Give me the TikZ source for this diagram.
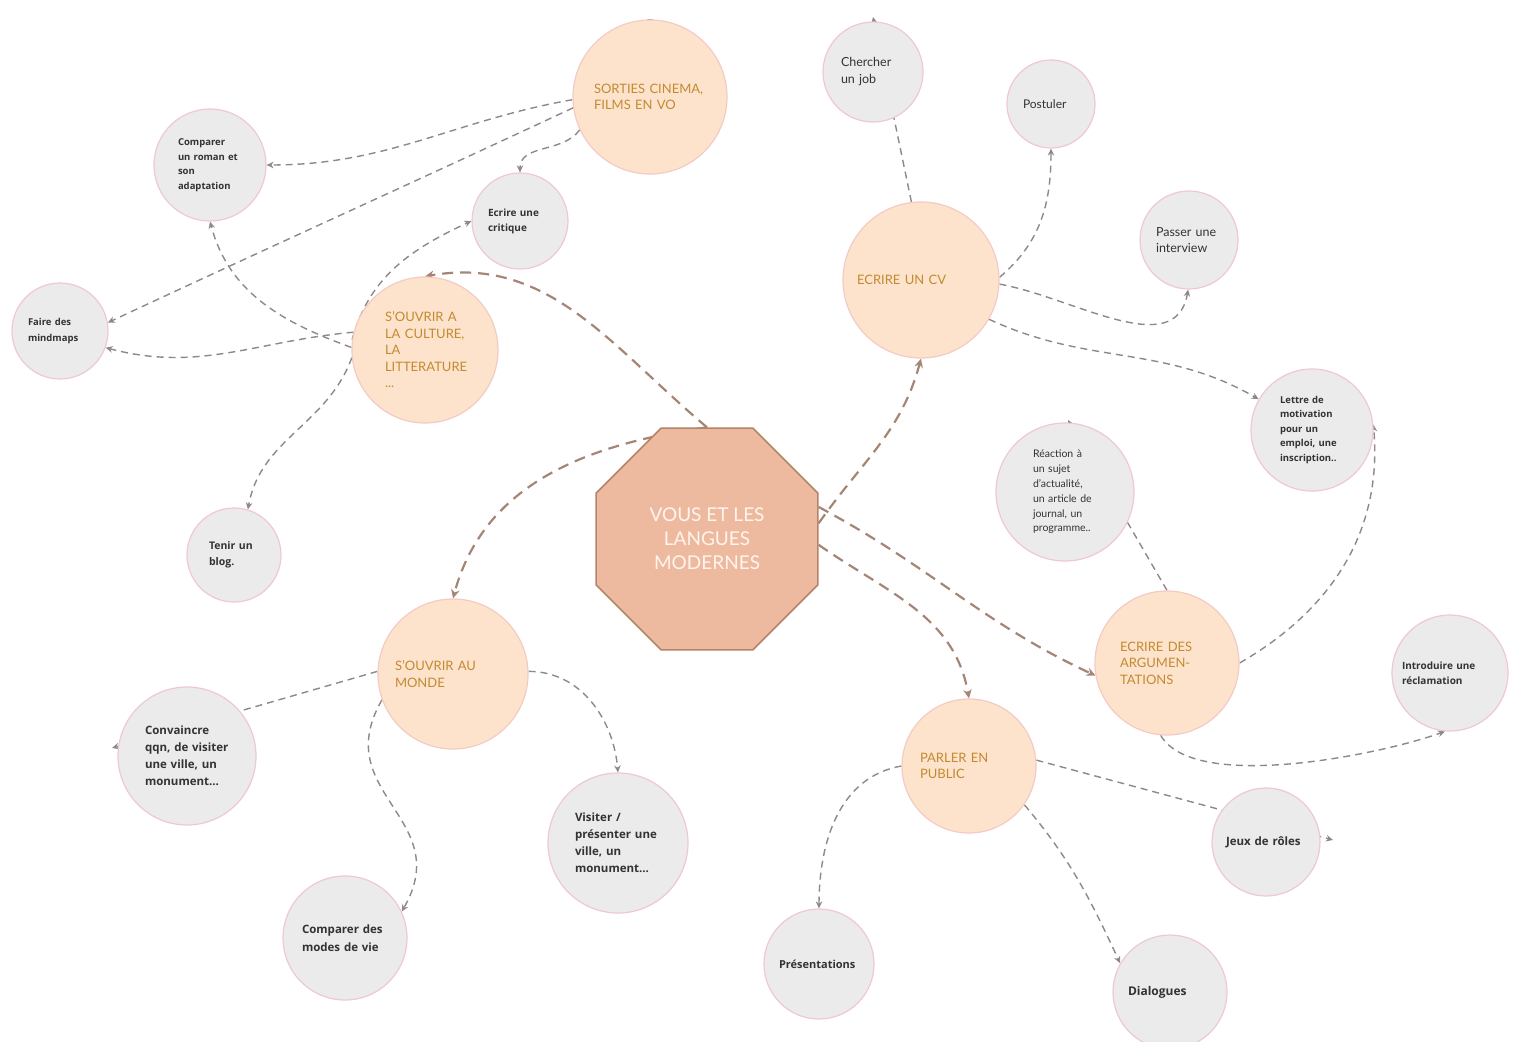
\documentclass[tikz,border=0pt]{standalone}
\usepackage{fontspec}
\setmainfont{Lato}
\newfontfamily\ideasans{Open Sans}
\usetikzlibrary{shapes.geometric,arrows.meta,backgrounds}

\definecolor{hubfill}{HTML}{EDBA9F}
\definecolor{hubline}{HTML}{B4846A}
\definecolor{hubtext}{HTML}{FFF4EE}
\definecolor{topicfill}{HTML}{FDE3CC}
\definecolor{topicline}{HTML}{F3CBC4}
\definecolor{topictext}{HTML}{C38A30}
\definecolor{ideafill}{HTML}{EBEBEC}
\definecolor{idealine}{HTML}{EFC8D1}
\definecolor{ideatext}{HTML}{333333}
\definecolor{linkgray}{HTML}{8F8888}
\definecolor{linkbrown}{HTML}{A58676}

\begin{document}
\begin{tikzpicture}[
        x=1pt,y=1pt,
        link/.style={draw=linkgray, line width=1.4pt, dash pattern=on 7pt off 5pt,
                -{Stealth[length=7pt,width=6.5pt]}},
        mainlink/.style={draw=linkbrown, line width=2.2pt, dash pattern=on 11pt off 7pt,
                -{Stealth[length=9pt,width=8.5pt]}}
    ]
    \tikzset  {
        hubnode/.style = {regular polygon, regular polygon sides=8, draw=hubline, line width=1.6pt,
                fill=hubfill, text=hubtext, minimum size=240pt, inner sep=0pt, align=center,
                font=\fontsize{19}{24}\selectfont},
        topicnode/.style 2 args = {circle, draw=topicline, line width=1.2pt, fill=topicfill, text=topictext,
                minimum size=#1, text width=#2, inner sep=0pt, align=left,
                font=\fontsize{13}{16.5}\selectfont},
        ideanode/.style n args = {4}{circle, draw=idealine, line width=1.2pt, fill=ideafill, text=ideatext,
                minimum size=#1, text width=#4, inner sep=0pt, align=left,
                font=\ideasans\bfseries\fontsize{#2}{#3}\selectfont},
        plainnode/.style n args = {4}{ideanode={#1}{#2}{#3}{#4}, font=\fontsize{#2}{#3}\selectfont},
    }
    \useasboundingbox (0,0) rectangle (1514,-1041);

    % centre
    \node [hubnode] (hub) at (707,-539) {VOUS ET LES\\LANGUES\\MODERNES};

    % themes
    \node [topicnode={154pt}{112pt}] (sorties) at (650,-97) {SORTIES CINEMA,\\FILMS EN VO};
    \node [topicnode={146pt}{80pt}] (culture) at (425,-350) {S'OUVRIR A\\LA CULTURE,\\LA\\LITTERATURE\\...};
    \node [topicnode={156pt}{128pt}] (cv) at (921,-280) {ECRIRE UN CV};
    \node [topicnode={150pt}{116pt}] (monde) at (453,-674) {S'OUVRIR AU\\MONDE};
    \node [topicnode={144pt}{94pt}] (argu) at (1167,-663) {ECRIRE DES\\ARGUMEN-\\TATIONS};
    \node [topicnode={134pt}{98pt}] (parler) at (969,-766) {PARLER EN\\PUBLIC};

    % activities
    \node [ideanode={112pt}{9.5}{14.5}{64pt}] (roman) at (210,-165) {Comparer\\un roman et\\son\\adaptation};
    \node [ideanode={96pt}{10}{15}{64pt}] (critique) at (520,-221) {Ecrire une\\critique};
    \node [ideanode={96pt}{9.5}{16}{64pt}] (mindmaps) at (60,-331) {Faire des\\mindmaps};
    \node [ideanode={94pt}{10.5}{16}{50pt}] (blog) at (234,-555) {Tenir un\\blog.};
    \node [ideanode={138pt}{11.5}{17}{84pt}] (convaincre) at (187,-756) {Convaincre\\qqn, de visiter\\une ville, un\\monument...};
    \node [ideanode={124pt}{11.5}{18}{86pt}] (modes) at (345,-938) {Comparer des\\modes de vie};
    \node [ideanode={140pt}{11.5}{17}{86pt}] (visiter) at (618,-843) {Visiter /\\présenter une\\ville, un\\monument...};
    \node [plainnode={100pt}{12.5}{17}{64pt}] (chercher) at (873,-72) {Chercher\\un job};
    \node [plainnode={88pt}{12}{16}{56pt}] (postuler) at (1051,-104) {Postuler};
    \node [plainnode={98pt}{12.5}{16}{66pt}] (interview) at (1189,-240) {Passer une\\interview};
    \node [ideanode={122pt}{9.5}{14.5}{64pt}] (lettre) at (1312,-430) {Lettre de\\motivation\\pour un\\emploi, une\\inscription..};
    \node [plainnode={138pt}{10.5}{14.8}{64pt}] (reaction) at (1065,-492) {Réaction à\\un sujet\\d'actualité,\\un article de\\journal, un\\programme..};
    \node [ideanode={116pt}{10}{15}{96pt}] (reclamation) at (1450,-673) {Introduire une\\réclamation};
    \node [ideanode={108pt}{11.5}{15}{80pt}] (jeux) at (1266,-842) {Jeux de rôles};
    \node [ideanode={110pt}{11}{15}{80pt}] (presentations) at (819,-964) {Présentations};
    \node [ideanode={114pt}{12}{15}{84pt}] (dialogues) at (1170,-992) {Dialogues};

    % ends that pass behind a circle
    \coordinate (convaincre-end) at (112,-748);
    \coordinate (chercher-end) at (873,-17);
    \coordinate (reaction-end) at (1068,-420);
    \coordinate (jeux-end) at (1333,-840);

    \begin{pgfonlayer}{background}
        \fill [white] (0,0) rectangle (1514,-1041);
        % from the centre
        \draw [mainlink] (hub.north) to[out=140,in=10] (culture.north);
        \draw [mainlink] (hub.north) to[out=188,in=75] (monde.north);
        \draw [mainlink] (hub.8) to[out=55,in=255] (cv.south);
        \draw [mainlink] (hub.16) to[out=-28,in=155] (argu.190);
        \draw [mainlink] (hub.-3) to[out=-35,in=100] (parler.north);
        % sorties cinema
        \draw [link] (sorties.182) to[out=190,in=0] (roman.east);
        \draw [link] (sorties.188) to[out=205,in=25] (mindmaps.10);
        \draw [link] (sorties.205) to[out=235,in=90] (critique.north);
        \draw [linkgray, line width=1.2pt] (641,-25) to[out=70,in=110] (656,-23);
        % culture
        \draw [link] (culture.178) to[out=160,in=-75] (roman.south);
        \draw [link] (culture.166) to[out=185,in=-15] (mindmaps.-20);
        \draw [link] (culture.172) to[out=75,in=205] (critique.west);
        \draw [link] (culture.186) to[out=250,in=80] (blog.73);
        % monde
        \draw [link] (monde.178) -- (convaincre-end);
        \draw [link] (monde.200) to[out=240,in=60,looseness=1.3] (modes.25);
        \draw [link] (monde.2) to[out=0,in=95] (visiter.north);
        % cv
        \draw [link] (cv.97) -- (chercher-end);
        \draw [link] (cv.2) to[out=40,in=-90] (postuler.south);
        \draw [link] (cv.-3) to[out=-10,in=-100] (interview.-91);
        \draw [link] (cv.-30) to[out=-25,in=150] (lettre.150);
        % argumentations
        \draw [link] (argu.north) -- (reaction-end);
        \draw [link] (argu.0) to[out=30,in=-85] (lettre.5);
        \draw [link] (argu.-95) to[out=-60,in=200,looseness=0.6] (reclamation.-95);
        % parler
        \draw [link] (parler.5) -- (jeux-end);
        \draw [link] (parler.180) to[out=190,in=90] (presentations.north);
        \draw [link] (parler.-35) to[out=-50,in=115] (dialogues.150);
    \end{pgfonlayer}
\end{tikzpicture}
\end{document}
